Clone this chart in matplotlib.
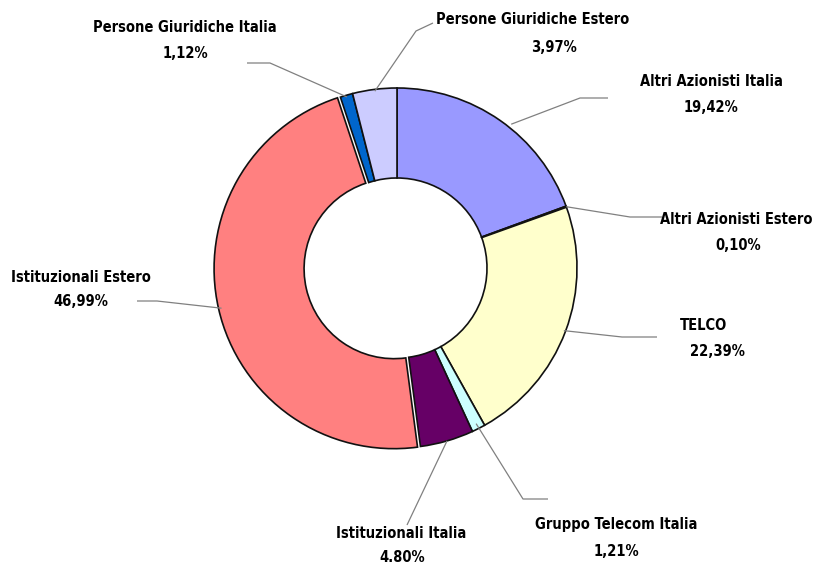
import numpy as np
import matplotlib
matplotlib.use("Agg")
import matplotlib.pyplot as plt
from matplotlib import font_manager

# ---- data ----
categories = ["Altri Azionisti Italia", "Altri Azionisti Estero", "TELCO",
              "Gruppo Telecom Italia", "Istituzionali Italia", "Istituzionali Estero",
              "Persone Giuridiche Italia", "Persone Giuridiche Estero"]
values = [19.42, 0.10, 22.39, 1.21, 4.80, 46.99, 1.12, 3.97]
pct_labels = ["19,42%", "0,10%", "22,39%", "1,21%", "4.80%", "46,99%", "1,12%", "3,97%"]
colors = ["#9999FF", "#993366", "#FFFFCC", "#CCFFFF", "#660066", "#FF8080",
          "#0066CC", "#CCCCFF"]

# ---- layout (pixel coords, y from top) ----
W, H = 814, 566
cx, cy = 397, 268
R = 180
explode = [0, 0, 0, 0, 0, 3, 0, 0]
# elbow point, end of horizontal segment, name centre, pct centre
layout = [
    ((580, 98), (608, 98), (711, 81), (711, 107)),
    ((630, 217), (662, 217), (736, 219), (738, 246)),
    ((622, 337), (657, 337), (703, 325), (717, 352)),
    ((523, 499), (548, 499), (616, 525), (616, 552)),
    ((407, 525), (407, 525), (401, 533), (402, 558)),
    ((157, 301), (137, 301), (81, 277), (81, 301)),
    ((270, 63), (247, 63), (185, 27), (185, 53)),
    ((416, 31), (433, 23), (533, 20), (554, 47)),
]
# leader start: (fraction of radius, angular offset in degrees, clockwise +)
start = [(1.02, 3.5), (1.0, 0), (0.99, 0), (0.97, 0), (1.0, 0), (1.0, 0),
         (0.99, 0), (0.99, 0)]

cands = [f for f in font_manager.fontManager.ttflist
         if ("Condensed" in f.name or "Narrow" in f.name
             or f.stretch in ("condensed", "semi-condensed"))]
if cands:
    font_kw = dict(family=[cands[0].name, "DejaVu Sans"], fontstretch=cands[0].stretch)
else:
    font_kw = dict(family=["DejaVu Sans"], fontstretch="condensed")

fig = plt.figure(figsize=(W / 100, H / 100), dpi=100)
ax = fig.add_axes([0, 0, 1, 1])

ax.pie(values, colors=colors, startangle=90, counterclock=False,
       explode=explode, center=(cx, H - cy), radius=R,
       wedgeprops=dict(width=R * 0.5, edgecolor="#111111", linewidth=1.2),
       frame=True)
ax.set_xlim(0, W)
ax.set_ylim(0, H)
ax.set_aspect("equal")
ax.axis("off")

cum = np.cumsum([0] + values[:-1])
for i, (name, pct) in enumerate(zip(categories, pct_labels)):
    frac, off = start[i]
    mid = 90 - (cum[i] + values[i] / 2) * 3.6 - off
    th = np.deg2rad(mid)
    sx = cx + R * frac * np.cos(th)
    sy = (H - cy) + R * frac * np.sin(th)
    (ex, ey), (hx, hy), (nx, ny), (px, py) = layout[i]
    ax.plot([sx, ex, hx], [sy, H - ey, H - hy], color="#808080", lw=0.9,
            solid_capstyle="butt")
    ax.text(nx, H - ny, name, ha="center", va="center", fontsize=10.5,
            fontweight="bold", **font_kw)
    ax.text(px, H - py, pct, ha="center", va="center", fontsize=10.5,
            fontweight="bold", **font_kw)

fig.savefig("out.png", dpi=100)
